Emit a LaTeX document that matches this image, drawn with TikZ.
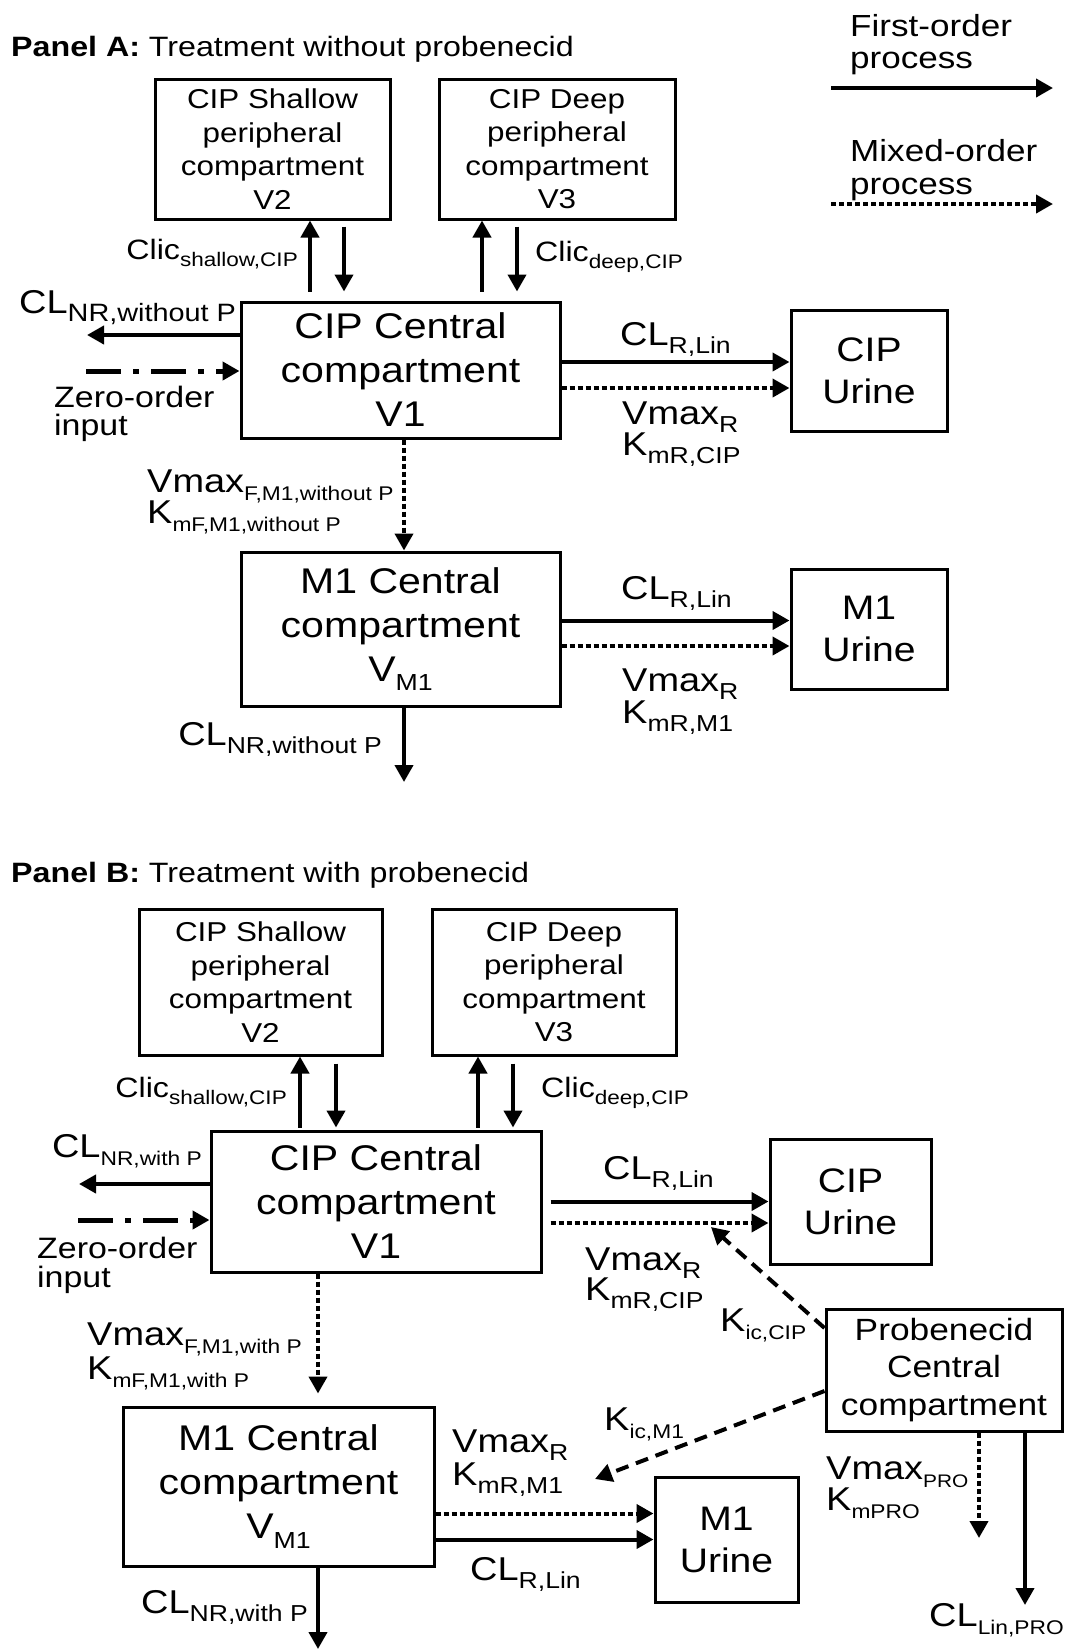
\documentclass[tikz,border=0pt]{standalone}
\usepackage{graphicx}
\usepackage{fontspec}
\setmainfont{Liberation Sans}[FakeStretch=1.15]
\usetikzlibrary{arrows.meta}
\setlength{\lineskiplimit}{-100pt}

\newcommand{\fsz}[2]{\fontsize{#1}{#2}\selectfont}
\newcommand{\sbs}[2][0.7]{\raisebox{-0.27em}{\scalebox{#1}{#2}}}

\tikzset{
  box/.style={draw, line width=3pt, inner sep=0pt, align=center},
  peri/.style={box, font=\fsz{27.3}{33.5}},
  cent/.style={box, font=\fsz{35.7}{44}},
  urin/.style={box, font=\fsz{34}{42}},
  lbl/.style={inner sep=0pt, anchor=base west, align=left, font=\fsz{33}{32}},
  clic/.style={lbl, font=\fsz{28}{32}},
  fo/.style={line width=4pt, -{Triangle[length=17pt,width=18pt]}},  % first-order
  mo/.style={fo, dash pattern=on 5pt off 3pt},                      % mixed-order
  zo/.style={fo, line width=5pt, dash pattern=on 35pt off 12pt on 6pt off 12pt},
  inh/.style={fo, dash pattern=on 13pt off 8pt},                    % inhibition
}

\begin{document}
\begin{tikzpicture}[x=1pt,y=-1pt]
\useasboundingbox (0,0) rectangle (1065,1650);

%%% Panel A
\node[lbl, font=\fsz{28}{34}] (titA) at (11,56) {\textbf{Panel A:} Treatment without probenecid};

\node[peri, minimum width=235, minimum height=140] (shalA) at (272.5,149) {CIP Shallow\\peripheral\\compartment\\V2};
\node[peri, minimum width=236, minimum height=140] (deepA) at (557,149) {CIP Deep\\peripheral\\compartment\\V3};
\node[cent, minimum width=319, minimum height=136] (cenA) at (400.5,370) {CIP Central\\compartment\\V1};
\node[urin, minimum width=156, minimum height=121] (urinA) at (869,371) {CIP\\Urine};
\node[cent, minimum width=319, minimum height=154] (m1A) at (400.5,629) {M1 Central\\compartment\\V\sbs[0.65]{M1}};
\node[urin, minimum width=156, minimum height=120] (m1urA) at (869,629) {M1\\Urine};

% legend (multi-line labels sit on their last baseline)
\node[lbl, font=\fsz{30.5}{32}] (foT) at (850,68) {First-order\\process};
\node[lbl, font=\fsz{30.5}{33}] (moT) at (850,194) {Mixed-order\\process};
\coordinate (foL) at (831,88);  \coordinate (foR) at (1053,88);
\coordinate (moL) at (831,204); \coordinate (moR) at (1053,204);
\draw[fo] (foL) -- (foR);
\draw[mo] (moL) -- (moR);

% peripheral exchange
\draw[fo] ([xshift=-90.5,yshift=9]cenA.north) -- ([xshift=37.5]shalA.south);
\draw[fo] ([xshift=71.5,yshift=-6]shalA.south) -- ([xshift=-56.5,yshift=9]cenA.north);
\draw[fo] ([xshift=81.5,yshift=9]cenA.north) -- ([xshift=-75]deepA.south);
\draw[fo] ([xshift=-40,yshift=-6]deepA.south) -- ([xshift=116.5,yshift=9]cenA.north);
\node[clic, anchor=base east] (clsA) at (298,259) {Clic\sbs{shallow,CIP}};
\node[clic] (cldA) at (535,261) {Clic\sbs{deep,CIP}};

% input and non-renal clearance
\coordinate (nrA) at (87,335);
\coordinate (inA) at (86,371);
\draw[fo] (cenA.west |- nrA) -- (nrA);
\draw[zo] (inA) -- (inA -| cenA.west);
\node[lbl] (cnrA) at (19,313) {CL\sbs[0.76]{NR,without P}};
\node[lbl, font=\fsz{29.5}{28}] (zoA) at (54,435) {Zero-order\\input};

% renal clearance of CIP
\draw[fo] ([yshift=8]cenA.east) -- ([yshift=8]cenA.east -| urinA.west);
\draw[mo] ([yshift=-18]cenA.east) -- ([yshift=-18]cenA.east -| urinA.west);
\node[lbl] (crlA) at (620,345) {CL\sbs{R,Lin}};
\node[lbl, font=\fsz{33}{31}] (vmA) at (622,455) {Vmax\sbs{R}\\K\sbs{mR,CIP}};

% formation of M1
\draw[mo] ([xshift=3.5]cenA.south) -- ([xshift=3.5]m1A.north);
\node[lbl, font=\fsz{33}{31}] (vfA) at (147,523) {Vmax\sbs[0.6]{F,M1,without P}\\K\sbs[0.6]{mF,M1,without P}};

% M1 elimination
\coordinate (nrmA) at (404,782);
\draw[fo] (m1A.south -| nrmA) -- (nrmA);
\node[lbl, anchor=base east] (cnrmA) at (382,745) {CL\sbs{NR,without P}};
\draw[fo] ([yshift=8.5]m1A.east) -- ([yshift=8.5]m1A.east -| m1urA.west);
\draw[mo] ([yshift=-17]m1A.east) -- ([yshift=-17]m1A.east -| m1urA.west);
\node[lbl] (crlmA) at (621,599) {CL\sbs{R,Lin}};
\node[lbl] (vmmA) at (622,723) {Vmax\sbs{R}\\K\sbs{mR,M1}};

%%% Panel B
\node[lbl, font=\fsz{28}{34}] (titB) at (11,882) {\textbf{Panel B:} Treatment with probenecid};

\node[peri, minimum width=243, minimum height=146] (shalB) at (260.5,982) {CIP Shallow\\peripheral\\compartment\\V2};
\node[peri, minimum width=244, minimum height=146] (deepB) at (554,982) {CIP Deep\\peripheral\\compartment\\V3};
\node[cent, minimum width=330, minimum height=141] (cenB) at (376,1201.5) {CIP Central\\compartment\\V1};
\node[urin, minimum width=161, minimum height=125] (urinB) at (850.5,1201.5) {CIP\\Urine};
\node[box, font=\fsz{30.7}{37.5}, minimum width=236, minimum height=122] (proB) at (944,1370) {Probenecid\\Central\\compartment};
\node[cent, minimum width=311, minimum height=159] (m1B) at (278.5,1486.5) {M1 Central\\compartment\\V\sbs[0.65]{M1}};
\node[urin, minimum width=143, minimum height=125] (m1urB) at (726.5,1539.5) {M1\\Urine};

% peripheral exchange
\draw[fo] ([xshift=-76,yshift=2]cenB.north) -- ([xshift=39.5]shalB.south);
\draw[fo] ([xshift=75.5,yshift=-7]shalB.south) -- ([xshift=-40,yshift=2]cenB.north);
\draw[fo] ([xshift=102,yshift=2]cenB.north) -- ([xshift=-76]deepB.south);
\draw[fo] ([xshift=-41,yshift=-7]deepB.south) -- ([xshift=137,yshift=2]cenB.north);
\node[clic, anchor=base east] (clsB) at (287,1097) {Clic\sbs{shallow,CIP}};
\node[clic] (cldB) at (541,1097) {Clic\sbs{deep,CIP}};

% input and non-renal clearance
\coordinate (nrB) at (79,1184);
\coordinate (inB) at (78,1220);
\draw[fo] (cenB.west |- nrB) -- (nrB);
\draw[zo] (inB) -- (inB -| cenB.west);
\node[lbl, anchor=base east] (cnrB) at (202,1157) {CL\sbs[0.6]{NR,with P}};
\node[lbl, font=\fsz{29.5}{29}] (zoB) at (37,1287) {Zero-order\\input};

% renal clearance of CIP
\draw[fo] ([xshift=8]cenB.east) -- (urinB.west);
\draw[mo] ([xshift=8,yshift=-21.5]cenB.east) -- ([yshift=-21.5]urinB.west);
\node[lbl] (crlB) at (603,1179) {CL\sbs{R,Lin}};
\node[lbl, font=\fsz{33}{30}] (vmB) at (585,1300) {Vmax\sbs{R}\\K\sbs{mR,CIP}};

% formation of M1
\draw[mo] ([xshift=-58]cenB.south) -- ([xshift=39.5,yshift=12]m1B.north);
\node[lbl, font=\fsz{33}{34}] (vfB) at (87,1379) {Vmax\sbs[0.6]{F,M1,with P}\\K\sbs[0.6]{mF,M1,with P}};

% M1 elimination
\coordinate (nrmB) at (318,1649);
\draw[fo] (m1B.south -| nrmB) -- (nrmB);
\node[lbl, anchor=base east] (cnrmB) at (308,1613) {CL\sbs{NR,with P}};
\draw[mo] ([yshift=26]m1urB.west -| m1B.east) -- ([yshift=26]m1urB.west);
\draw[fo] (m1urB.west -| m1B.east) -- (m1urB.west);
\node[lbl, font=\fsz{33}{33}] (vmmB) at (452,1485) {Vmax\sbs{R}\\K\sbs{mR,M1}};
\node[lbl] (crlmB) at (470,1580) {CL\sbs{R,Lin}};

% probenecid: inhibition and elimination
\coordinate (kcTip) at (711,1227);
\coordinate (kmTip) at (595,1479);
\draw[inh] ([yshift=42]proB.west) -- (kcTip);
\draw[inh] ([yshift=-21]proB.west) -- (kmTip);
\node[lbl] (kicB) at (720,1331) {K\sbs[0.6]{ic,CIP}};
\node[lbl] (kimB) at (604,1430) {K\sbs[0.6]{ic,M1}};
\coordinate (vpTip) at (979,1538);
\coordinate (clpTip) at (1025,1605);
\draw[mo] (proB.south -| vpTip) -- (vpTip);
\draw[fo] (proB.south -| clpTip) -- (clpTip);
\node[lbl, font=\fsz{33}{31}] (vpB) at (826,1510) {Vmax\sbs[0.55]{PRO}\\K\sbs[0.6]{mPRO}};
\node[lbl, anchor=base east] (clpB) at (1064,1626) {CL\sbs[0.6]{Lin,PRO}};
\end{tikzpicture}
\end{document}
